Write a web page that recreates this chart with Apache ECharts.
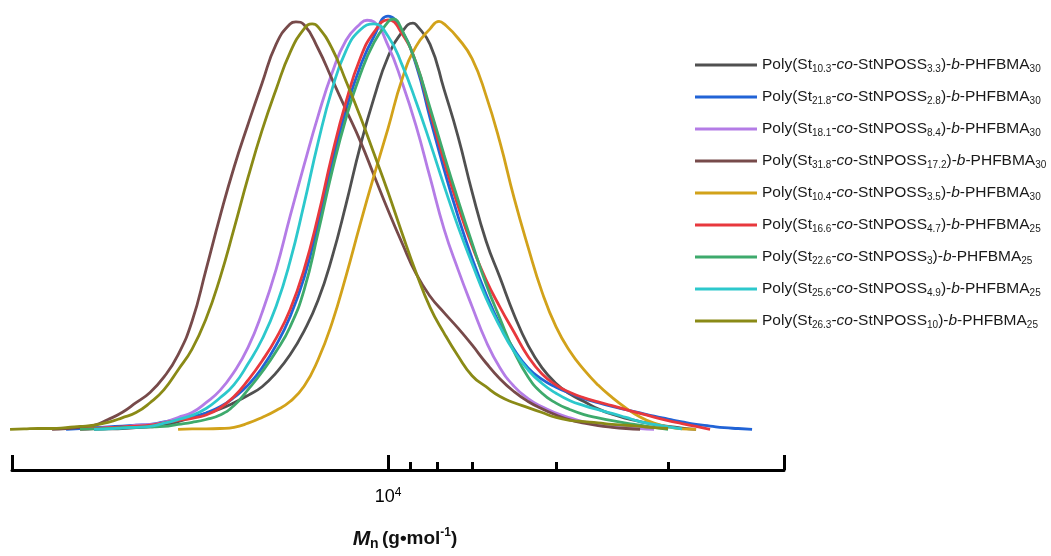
<!DOCTYPE html>
<html>
<head>
<meta charset="utf-8">
<script src="https://cdn.jsdelivr.net/npm/echarts@6/dist/echarts.min.js"></script>
<style>
html,body{margin:0;padding:0;background:#fff;}
#chart{width:1051px;height:556px;}
</style>
</head>
<body>
<div id="chart"></div>
<script>
// Shared abscissa: log10(Mn / g·mol-1), read every 0.05 decade
const logM = [2.65,2.70,2.75,2.80,2.85,2.90,2.95,3.00,3.05,3.10,3.15,3.20,3.25,3.30,3.35,3.40,3.45,3.50,3.55,3.60,
              3.65,3.70,3.75,3.80,3.85,3.90,3.95,4.00,4.05,4.10,4.15,4.20,4.25,4.30,4.35,4.40,4.45,4.50,4.55,4.60,
              4.65,4.70,4.75,4.80,4.85,4.90,4.95,5.00,5.05,5.10,5.15,5.20,5.25,5.30];

const seriesNames = [
  'Poly(St10.3-co-StNPOSS3.3)-b-PHFBMA30',
  'Poly(St21.8-co-StNPOSS2.8)-b-PHFBMA30',
  'Poly(St18.1-co-StNPOSS8.4)-b-PHFBMA30',
  'Poly(St31.8-co-StNPOSS17.2)-b-PHFBMA30',
  'Poly(St10.4-co-StNPOSS3.5)-b-PHFBMA30',
  'Poly(St16.6-co-StNPOSS4.7)-b-PHFBMA25',
  'Poly(St22.6-co-StNPOSS3)-b-PHFBMA25',
  'Poly(St25.6-co-StNPOSS4.9)-b-PHFBMA25',
  'Poly(St26.3-co-StNPOSS10)-b-PHFBMA25'
];
const stSub   = ['10.3','21.8','18.1','31.8','10.4','16.6','22.6','25.6','26.3'];
const possSub = ['3.3','2.8','8.4','17.2','3.5','4.7','3','4.9','10'];
const phfSub  = ['30','30','30','30','30','25','25','25','25'];
const colors  = ['#505050','#2163d6','#b47ce6','#774a4a','#d2a21a','#e8383d','#3eaa6c','#2cc8cc','#8a8a16'];

// normalized GPC intensities (null = no trace there)
const _ = null;
const gray   = [_,_,_,_,_,_,0,.001,.002,.004,.006,.010,.019,.029,.039,.050,.065,.083,.104,.138,
                .182,.240,.315,.420,.550,.690,.810,.910,.970,.988,.940,.830,.715,.580,.460,.370,.280,.205,.150,.112,
                .086,.068,.050,.037,.027,.019,.012,.007,.003,0,_,_,_,_];
const blue   = [_,_,_,_,0,.002,.004,.006,.008,.010,.012,.018,.024,.030,.040,.055,.078,.108,.150,.205,
                .275,.370,.500,.650,.780,.885,.960,1.009,.972,.890,.760,.635,.520,.418,.330,.255,.195,.150,.122,.103,
                .088,.075,.065,.056,.048,.040,.032,.025,.018,.012,.008,.004,.002,0];
const purple = [_,_,_,_,_,0,.002,.004,.005,.010,.012,.017,.029,.041,.065,.095,.140,.200,.285,.390,
                .520,.645,.765,.870,.950,.990,.995,.937,.847,.741,.615,.489,.390,.300,.215,.150,.105,.075,.055,.040,
                .028,.018,.012,.008,.005,.002,0,_,_,_,_,_,_,_];
const brown  = [_,_,_,0,.002,.005,.010,.024,.041,.065,.090,.128,.182,.264,.390,.520,.640,.745,.845,.940,
                .990,.988,.930,.855,.780,.705,.620,.535,.455,.380,.325,.285,.247,.206,.162,.123,.092,.068,.050,.035,
                .023,.015,.009,.005,.002,0,_,_,_,_,_,_,_,_];
const gold   = [_,_,_,_,_,_,_,_,_,_,_,_,0,.001,.001,.002,.005,.015,.029,.046,
                .068,.105,.170,.260,.375,.500,.620,.735,.855,.935,.978,.990,.955,.905,.815,.700,.565,.445,.335,.250,
                .190,.145,.108,.078,.052,.030,.015,.006,.001,0,_,_,_,_];
const red    = [_,_,_,_,_,0,.002,.004,.006,.008,.010,.016,.022,.027,.035,.052,.080,.120,.167,.222,
                .292,.390,.520,.670,.800,.905,.970,1.000,.966,.895,.775,.655,.545,.448,.365,.298,.237,.178,.135,.108,
                .090,.077,.067,.058,.048,.039,.030,.021,.014,.007,0,_,_,_];
const green  = [_,_,_,_,_,0,.001,.002,.004,.005,.006,.007,.012,.017,.024,.035,.058,.097,.140,.190,
                .250,.340,.480,.630,.760,.865,.945,.995,.975,.895,.785,.670,.560,.455,.355,.270,.190,.128,.088,.064,
                .048,.036,.028,.021,.015,.010,.005,0,_,_,_,_,_,_];
const cyan   = [_,_,_,_,_,_,0,.001,.003,.005,.007,.015,.024,.034,.051,.077,.109,.160,.220,.300,
                .410,.550,.700,.830,.925,.975,.990,.960,.890,.800,.700,.595,.495,.405,.320,.250,.190,.145,.112,.088,
                .070,.058,.048,.039,.029,.019,.012,.006,.001,_,_,_,_,_];
const olive  = [0,.001,.002,.002,.004,.007,.010,.017,.028,.041,.065,.097,.145,.196,.270,.370,.490,.615,.730,.830,
                .920,.978,.983,.930,.850,.765,.673,.579,.479,.383,.298,.235,.179,.131,.104,.080,.065,.053,.041,.029,
                .022,.019,.016,.012,.010,.007,.004,.002,_,_,_,_,_,_];

// apex of each trace (null = apex already on the grid)
const peakLogM = [4.089, _, 3.925, 3.671, 4.182, _, 4.018, _, 3.729];
const peakI    = [0.992, _, 0.999, 0.995, 0.996, _, 1.002, _, 0.990];

const intensities = [gray, blue, purple, brown, gold, red, green, cyan, olive];

// axis: log10(M) range and tick positions (10^4 labelled)
const xMin = 2.657, xMax = 5.414;
const majorTicks = [2.657, 4, 5.414];
const minorTicks = [Math.log10(12000), Math.log10(15000), Math.log10(20000), Math.log10(40000), Math.log10(100000)];
const tickLabels = [4];

const chart = echarts.init(document.getElementById('chart'));
const series = seriesNames.map((n, k) => {
  const pts = logM.map((x, j) => [x, intensities[k][j]]);
  if (peakLogM[k] !== null) {
    pts.push([peakLogM[k], peakI[k]]);
    pts.sort((a, b) => a[0] - b[0]);
  }
  return {
    name: n,
    type: 'line',
    xAxisIndex: 0,
    data: pts,
    symbol: 'none',
    smooth: 0.5,
    connectNulls: false,
    lineStyle: { width: 2.8, color: colors[k] },
    itemStyle: { color: colors[k] },
    z: 2 + k
  };
});

const legendRich = {};
seriesNames.forEach((n, k) => {
  legendRich[n] = 'Poly(St{s|' + stSub[k] + '}-{i|co}-StNPOSS{s|' + possSub[k] + '})-{i|b}-PHFBMA{s|' + phfSub[k] + '}';
});

const font = '"Liberation Sans", Arial, sans-serif';

chart.setOption({
  animation: false,
  backgroundColor: '#ffffff',
  grid: { left: 12, right: 267, top: 0, bottom: 82, containLabel: false },
  xAxis: [{
    type: 'value', min: xMin, max: xMax,
    axisLine: { show: true, onZero: false, lineStyle: { color: '#000', width: 3 } },
    axisTick: { show: true, inside: true, length: 15, customValues: majorTicks, lineStyle: { color: '#000', width: 3 } },
    axisLabel: {
      show: true, customValues: tickLabels, margin: 17,
      formatter: v => '{a|10}{p|4}',
      rich: {
        a: { fontFamily: font, fontSize: 18, color: '#000', lineHeight: 20 },
        p: { fontFamily: font, fontSize: 12, color: '#000', verticalAlign: 'top', lineHeight: 20, padding: [0, 0, 8, 0] }
      }
    },
    splitLine: { show: false },
    name: '{m|M}{n|n} {b|(g•mol}{p|-1}{b|)}',
    nameLocation: 'middle', nameGap: 57,
    nameTextStyle: {
      padding: [0, 0, 0, 14],
      rich: {
        m: { fontFamily: font, fontSize: 21, fontWeight: 'bold', fontStyle: 'italic', color: '#111', lineHeight: 24 },
        n: { fontFamily: font, fontSize: 14, fontWeight: 'bold', color: '#111', verticalAlign: 'bottom', lineHeight: 24, padding: [6, 0, 0, 0] },
        b: { fontFamily: font, fontSize: 19, fontWeight: 'bold', color: '#111', lineHeight: 24 },
        p: { fontFamily: font, fontSize: 12, fontWeight: 'bold', color: '#111', verticalAlign: 'top', lineHeight: 24, padding: [0, 0, 8, 0] }
      }
    }
  }, {
    type: 'value', min: xMin, max: xMax, position: 'bottom', offset: 0, gridIndex: 0,
    axisLine: { show: false, onZero: false },
    axisTick: { show: true, inside: true, length: 8, customValues: minorTicks, lineStyle: { color: '#000', width: 3 } },
    axisLabel: { show: false },
    splitLine: { show: false }
  }],
  yAxis: {
    type: 'value', min: -0.0993, max: 1.0484, show: false,
    splitLine: { show: false }
  },
  legend: {
    orient: 'vertical', left: 690, top: 51,
    itemWidth: 62, itemHeight: 3, itemGap: 14,
    icon: 'rect',
    data: seriesNames,
    formatter: name => legendRich[name],
    textStyle: {
      fontFamily: font, fontSize: 15.5, color: '#1a1a1a', lineHeight: 18,
      rich: {
        s: { fontFamily: font, fontSize: 10, color: '#1a1a1a', verticalAlign: 'bottom', lineHeight: 18, padding: [5, 0, 0, 0] },
        i: { fontFamily: font, fontSize: 15.5, fontStyle: 'italic', color: '#1a1a1a', lineHeight: 18 }
      }
    }
  },
  series: series
});
</script>
</body>
</html>
